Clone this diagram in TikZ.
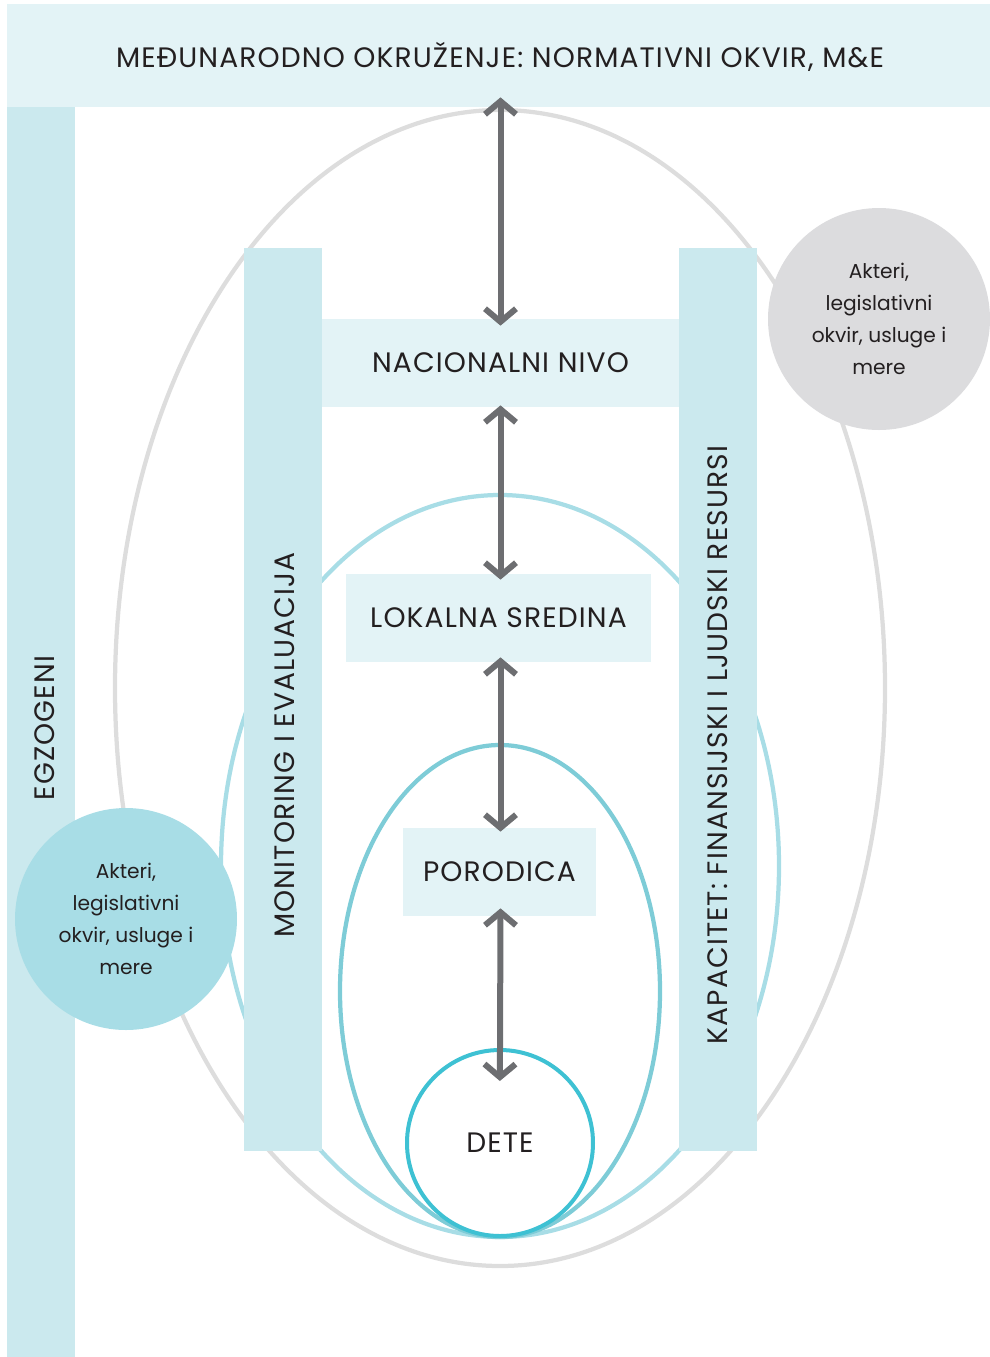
\documentclass[tikz,border=0pt]{standalone}
\usepackage{fontspec}
\setmainfont{Poppins}
\newfontfamily\widefont[LetterSpace=4]{Poppins}
\usetikzlibrary{arrows.meta}
\definecolor{paleblue}{HTML}{E3F3F6}
\definecolor{barblue}{HTML}{CBE9EE}
\definecolor{ringgrey}{HTML}{DDDDDD}
\definecolor{ringlight}{HTML}{A8DDE6}
\definecolor{ringmid}{HTML}{7ECCD7}
\definecolor{childcyan}{HTML}{3EC1D3}
\definecolor{arrowgrey}{HTML}{6D6E71}
\definecolor{textdark}{HTML}{231F20}
\definecolor{bubblegrey}{HTML}{DCDCDE}

\begin{document}
\begin{tikzpicture}
[x=0.02cm,y=-0.02cm,
 level/.style={fill=paleblue,inner sep=0pt,text=textdark,font=\widefont\fontsize{16}{18}\selectfont},
 bar/.style={fill=barblue,inner sep=0pt,minimum width=78*0.02cm,minimum height=903*0.02cm},
 sidetext/.style={rotate=90,text=textdark,font=\widefont\fontsize{16}{18}\selectfont},
 bubble/.style={circle,inner sep=0pt,minimum size=222*0.02cm,align=center,text=textdark,
   font=\fontsize{11.5}{18.2}\selectfont},
 link/.style={draw=arrowgrey,line width=0.12cm,{Straight Barb[length=0.26cm,width=0.62cm]}-{Straight Barb[length=0.26cm,width=0.62cm]}}]
\useasboundingbox (0,0) rectangle (990,1357);
\node[level,minimum width=983*0.02cm,minimum height=103*0.02cm](intl) at (498.5,55.5){};
\node[text=textdark,font=\widefont\fontsize{16}{18}\selectfont](intltext) at (500,57){MEĐUNARODNO OKRUŽENJE: NORMATIVNI OKVIR, M\&E};
\node[fill=barblue,inner sep=0pt,minimum width=68*0.02cm,minimum height=1250*0.02cm](egz) at (41,732){};
\node[sidetext](egztext) at (45,728){EGZOGENI};
% rings
\draw[ringgrey,line width=0.085cm] (500,688) ellipse [x radius=385,y radius=578];
\draw[ringlight,line width=0.085cm] (500,866) ellipse [x radius=279,y radius=371];
\draw[ringmid,line width=0.085cm] (500,991) ellipse [x radius=160,y radius=246];
% bars and levels
\node[bar](mon) at (283,699.5){};
\node[sidetext](montext) at (285,745){MONITORING I EVALUACIJA};
\node[bar](kap) at (718,699.5){};
\node[sidetext](kaptext) at (718,745){KAPACITET: FINANSIJSKI I LJUDSKI RESURSI};
\node[level,minimum width=357*0.02cm,minimum height=88*0.02cm](nac) at (500.5,363){NACIONALNI NIVO};
\node[level,minimum width=305*0.02cm,minimum height=88*0.02cm](lok) at (498.5,618){LOKALNA SREDINA};
\node[level,minimum width=193*0.02cm,minimum height=88*0.02cm](por) at (499.5,872){PORODICA};
\node[bubble,fill=bubblegrey](actright) at (879,319){Akteri,\\legislativni\\okvir, usluge i\\mere};
\node[bubble,fill=ringlight](actleft) at (126,919){Akteri,\\legislativni\\okvir, usluge i\\mere};
\node[circle,draw=childcyan,fill=white,line width=0.08cm,inner sep=0pt,minimum size=186*0.02cm,
  text=textdark,font=\widefont\fontsize{16}{18}\selectfont](dete) at (500,1143){DETE};
\path[link,shorten <=-0.2cm,shorten >=-0.14cm] (nac.north |- intl.south) -- (nac.north);
\path[link,shorten <=-0.04cm,shorten >=-0.12cm] (nac.south) -- (nac.south |- lok.north);
\path[link,shorten <=-0.1cm,shorten >=-0.08cm] (nac.south |- lok.south) -- (nac.south |- por.north);
\path[link,shorten <=-0.16cm,shorten >=-0.66cm] (nac.south |- por.south) -- (dete.north);
\end{tikzpicture}
\end{document}
